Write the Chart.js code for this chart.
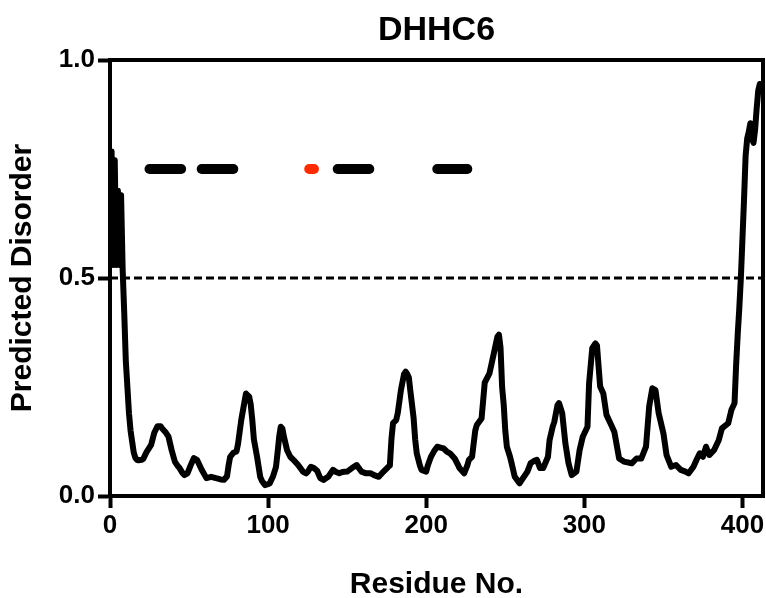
<!DOCTYPE html>
<html><head><meta charset="utf-8">
<script src="https://cdn.jsdelivr.net/npm/chart.js@4.4.1/dist/chart.umd.min.js"></script>
<style>html,body{margin:0;padding:0;background:#fff}#wrap{width:766px;height:598px}</style>
</head><body><div id="wrap"><canvas id="c" width="766" height="598"></canvas></div>
<script>
const chartTitle = 'DHHC6';
const xTitle = 'Residue No.';
const yTitle = 'Predicted Disorder';
const residues = [1,2,3,4,5,6,7,8,9,10,11,12,13,14,15,16,17,18,20,21,23,26,28,30,32,33,35,37,39,41,43,44,46,47,49,51,53,55,58,61,64,67,70,72,74,75,76,78,80,81,83,85,86,88,89,90,91,93,95,96,98,100,101,103,105,106,107,108,109,110,112,114,116,119,122,124,125,127,129,131,133,135,138,141,143,145,147,150,153,156,159,162,165,167,170,173,176,177,178,179,181,182,184,186,187,188,189,190,192,193,194,196,197,200,201,203,205,207,209,211,213,215,218,220,221,224,226,227,229,231,232,235,237,240,243,245,246,247,248,249,250,251,253,254,256,259,261,264,266,268,270,272,274,277,278,280,281,283,284,286,288,290,292,295,297,299,302,303,305,307,308,310,312,314,317,319,322,325,330,333,336,339,341,343,345,347,350,352,355,358,361,364,366,369,371,373,375,377,379,382,385,387,391,393,395,396,397,398,399,400,401,402,403,404,405,406,407,408,409,410,411,412];
const disorder = [0.79,0.53,0.77,0.53,0.70,0.53,0.69,0.52,0.42,0.31,0.25,0.19,0.15,0.125,0.10,0.088,0.083,0.082,0.083,0.085,0.10,0.117,0.145,0.16,0.16,0.155,0.147,0.136,0.105,0.079,0.068,0.064,0.052,0.048,0.052,0.07,0.087,0.083,0.06,0.041,0.044,0.041,0.038,0.037,0.045,0.07,0.09,0.099,0.102,0.12,0.174,0.215,0.235,0.228,0.21,0.174,0.13,0.09,0.044,0.035,0.025,0.027,0.029,0.044,0.067,0.10,0.136,0.159,0.155,0.136,0.105,0.09,0.083,0.071,0.056,0.052,0.055,0.067,0.064,0.058,0.041,0.037,0.044,0.06,0.055,0.052,0.055,0.056,0.064,0.071,0.056,0.052,0.052,0.048,0.044,0.056,0.067,0.07,0.13,0.167,0.174,0.19,0.243,0.28,0.285,0.28,0.272,0.24,0.18,0.13,0.098,0.07,0.06,0.056,0.07,0.09,0.103,0.113,0.111,0.109,0.102,0.098,0.086,0.072,0.064,0.052,0.07,0.083,0.09,0.15,0.163,0.178,0.26,0.281,0.331,0.365,0.37,0.34,0.25,0.21,0.15,0.113,0.09,0.075,0.044,0.029,0.04,0.056,0.075,0.08,0.083,0.064,0.064,0.09,0.128,0.159,0.17,0.208,0.213,0.19,0.121,0.075,0.048,0.056,0.105,0.136,0.159,0.258,0.339,0.35,0.345,0.251,0.235,0.186,0.163,0.147,0.086,0.079,0.075,0.086,0.086,0.113,0.205,0.247,0.243,0.19,0.144,0.094,0.067,0.071,0.06,0.056,0.052,0.067,0.083,0.098,0.09,0.113,0.094,0.105,0.128,0.155,0.167,0.197,0.213,0.30,0.37,0.43,0.50,0.59,0.68,0.78,0.82,0.835,0.855,0.82,0.81,0.84,0.889,0.93,0.945,0.94];
const thresholdX = [0, 413];
const thresholdY = [0.5, 0.5];
const tmSegments = [[25,45],[58,78],[144,164],[207,226]];
const motifSegment = [126,129];
const segmentLevel = 0.75;
const xTicks = [0,100,200,300,400];
const yTicks = [0.0,0.5,1.0];
const xMax = 413;

const FONT = "'Liberation Sans', Arial, Helvetica, sans-serif";
Chart.defaults.font.family = FONT;
Chart.defaults.color = '#000';

const datasets = [];
datasets.push({
  data: residues.map((r,i)=>({x:r,y:disorder[i]})),
  borderColor:'#000', borderWidth:6, pointRadius:0, tension:0, fill:false,
  borderJoinStyle:'round', borderCapStyle:'round'
});
datasets.push({
  data: thresholdX.map((r,i)=>({x:r,y:thresholdY[i]})),
  borderColor:'#000', borderWidth:3, borderDash:[8,4], pointRadius:0, fill:false
});
tmSegments.forEach(s=>{
  datasets.push({
    data: s.map(r=>({x:r,y:segmentLevel})),
    borderColor:'#000', borderWidth:10, borderCapStyle:'round', pointRadius:0, fill:false
  });
});
datasets.push({
  data: motifSegment.map(r=>({x:r,y:segmentLevel})),
  borderColor:'#ff2a00', borderWidth:10, borderCapStyle:'round', pointRadius:0, fill:false
});

const framePlugin = {
  id:'frame',
  afterDraw(chart){
    const a = chart.chartArea, ctx = chart.ctx;
    ctx.save();
    ctx.strokeStyle = '#000'; ctx.lineWidth = 4;
    ctx.strokeRect(a.left, a.top, a.right-a.left, a.bottom-a.top);
    ctx.restore();
  }
};

new Chart(document.getElementById('c'), {
  type:'line',
  data:{datasets},
  plugins:[framePlugin],
  options:{
    responsive:false, animation:false, devicePixelRatio:1,
    layout:{padding:{left:0,right:3,top:0,bottom:0}},
    plugins:{
      legend:{display:false}, tooltip:{enabled:false},
      title:{display:true, text:chartTitle, fullSize:false, color:'#000',
        font:{size:34, weight:'bold', family:FONT, lineHeight:1.2},
        padding:{top:10,bottom:9.2}}
    },
    scales:{
      x:{type:'linear', min:0, max:xMax,
        afterBuildTicks(s){ s.ticks = xTicks.map(v=>({value:v})); },
        afterFit(s){ s.height = 102; s.paddingLeft = 0; s.paddingRight = 0; },
        ticks:{font:{size:26, weight:'bold'}, color:'#000', padding:2, maxRotation:0, autoSkip:false},
        grid:{drawOnChartArea:false, drawTicks:true, tickLength:12, tickWidth:4, tickColor:'#000', color:'#000'},
        border:{display:true, width:4, color:'#000'},
        title:{display:true, text:xTitle, color:'#000', font:{size:30, weight:'bold', lineHeight:0.9}, padding:{top:0,bottom:0}}
      },
      y:{type:'linear', min:0, max:1,
        afterBuildTicks(s){ s.ticks = yTicks.map(v=>({value:v})); },
        afterFit(s){ s.width = 110; s.paddingTop = 0; s.paddingBottom = 0; },
        ticks:{font:{size:26, weight:'bold'}, color:'#000', padding:3, autoSkip:false,
          callback:(v)=>Number(v).toFixed(1)},
        grid:{drawOnChartArea:false, drawTicks:true, tickLength:12, tickWidth:4, tickColor:'#000', color:'#000'},
        border:{display:true, width:4, color:'#000'},
        title:{display:true, text:yTitle, color:'#000', font:{size:30, weight:'bold', lineHeight:1.2}, padding:{top:5,bottom:0}}
      }
    }
  }
});
</script></body></html>
